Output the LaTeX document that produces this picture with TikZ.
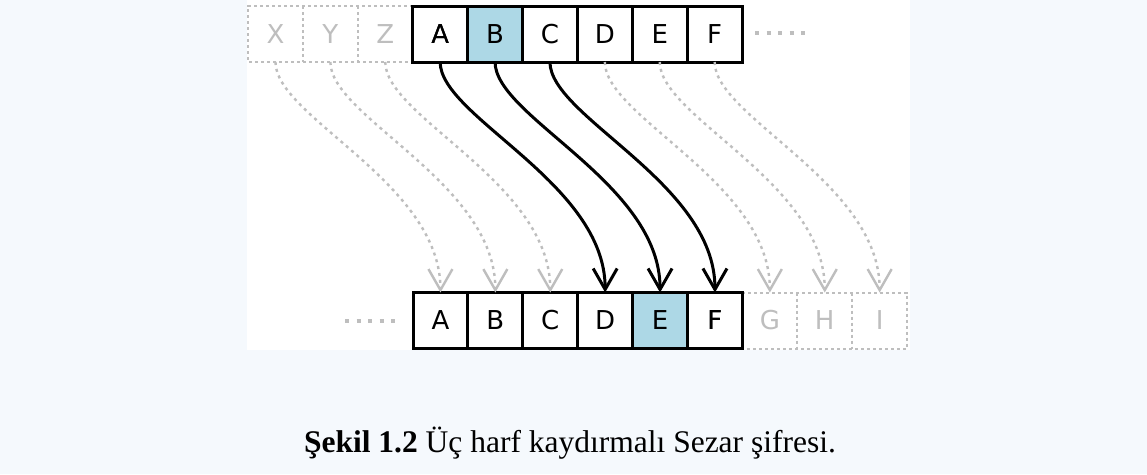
\documentclass[tikz,border=0pt]{standalone}
\usepackage{fontspec}
\setmainfont{Liberation Serif}
\newfontfamily\cellfont{DejaVu Sans}
\usetikzlibrary{arrows.meta}
\definecolor{pagebg}{HTML}{F5F9FD}
\definecolor{shiftblue}{HTML}{ADD8E6}
\definecolor{faint}{HTML}{BEBEBE}
\tikzset{
  cell/.style={minimum width=54.9pt, minimum height=56pt, inner sep=0pt, outer sep=0pt,
    font=\cellfont\fontsize{26}{26}\selectfont},
  solidcell/.style={cell, draw=black, line width=3pt},
  ghostcell/.style={cell, text=faint},
  ghostedge/.style={draw=faint, line width=2pt, dash pattern=on 3pt off 3pt},
  shiftarrow/.style={line width=3pt, -{Straight Barb[length=21pt, width=24pt]}},
  ghostarrow/.style={draw=faint, line width=2.4pt, dash pattern=on 3pt off 4pt,
    -{Straight Barb[length=21pt, width=24pt]}},
  ellipsis/.style={draw=faint, line width=4pt, dash pattern=on 4pt off 7.5pt},
  shift curve/.style={to path={.. controls +(0,55) and +(0,-110) .. (\tikztotarget)}},
}
\begin{document}
\begin{tikzpicture}[x=1pt, y=-1pt]
  % page and the white plate behind the diagram
  \fill[pagebg] (0,0) rectangle (1147,474);
  \fill[white] (247,0) rectangle (910,350);
  \useasboundingbox (0,0) rectangle (1147,474);

  % plain alphabet (top row)
  \foreach \n/\l [count=\i] in {t1/X,t2/Y,t3/Z} {
    \node[ghostcell] (\n) at ({248+54.9*(\i-0.5)},34) {\l};
  }
  \node[solidcell] (t4) at ({248+54.9*3.5},34) {A};
  \node[solidcell, fill=shiftblue] (t5) at ({248+54.9*4.5},34) {B};
  \node[solidcell] (t6) at ({248+54.9*5.5},34) {C};
  \node[solidcell] (t7) at ({248+54.9*6.5},34) {D};
  \node[solidcell] (t8) at ({248+54.9*7.5},34) {E};
  \node[solidcell] (t9) at ({248+54.9*8.5},34) {F};

  % cipher alphabet (bottom row)
  \node[solidcell] (b1) at ({413+54.9*0.5},320.5) {A};
  \node[solidcell] (b2) at ({413+54.9*1.5},320.5) {B};
  \node[solidcell] (b3) at ({413+54.9*2.5},320.5) {C};
  \node[solidcell] (b4) at ({413+54.9*3.5},320.5) {D};
  \node[solidcell, fill=shiftblue] (b5) at ({413+54.9*4.5},320.5) {E};
  \node[solidcell] (b6) at ({413+54.9*5.5},320.5) {F};
  \foreach \n/\l [count=\i from 7] in {b7/G,b8/H,b9/I} {
    \node[ghostcell] (\n) at ({413+54.9*(\i-0.5)},320.5) {\l};
  }

  % dotted outlines of the wrapped-around letters
  \draw[ghostedge] (t4.north west) -- (t1.north west) -- (t1.south west) -- (t4.south west);
  \draw[ghostedge] (t2.north west) -- (t2.south west);
  \draw[ghostedge] (t3.north west) -- (t3.south west);
  \draw[ghostedge] (b6.north east) -- (b9.north east) -- (b9.south east) -- (b6.south east);
  \draw[ghostedge] (b8.north west) -- (b8.south west);
  \draw[ghostedge] (b9.north west) -- (b9.south west);
  \node[solidcell] at (t4) {A};
  \node[solidcell] at (b6) {F};

  % continuation marks
  \coordinate (topdotsA) at (755,33);
  \coordinate (topdotsB) at (807,33);
  \coordinate (botdotsA) at (345,321);
  \coordinate (botdotsB) at (397,321);
  \draw[ellipsis] (topdotsA) -- (topdotsB);
  \draw[ellipsis] (botdotsA) -- (botdotsB);

  % shift by three
  \foreach \i in {1,2,3,7,8,9} {
    \draw[ghostarrow] (t\i.south) to[shift curve] (b\i.north);
  }
  \foreach \i in {4,5,6} {
    \draw[shiftarrow] (t\i.south) to[shift curve] (b\i.north);
  }

  % caption
  \node[anchor=base, inner sep=0pt] (caption) at (570,452)
    {\fontsize{31.5}{36}\selectfont\textbf{Şekil 1.2} Üç harf kaydırmalı Sezar şifresi.};
\end{tikzpicture}
\end{document}
